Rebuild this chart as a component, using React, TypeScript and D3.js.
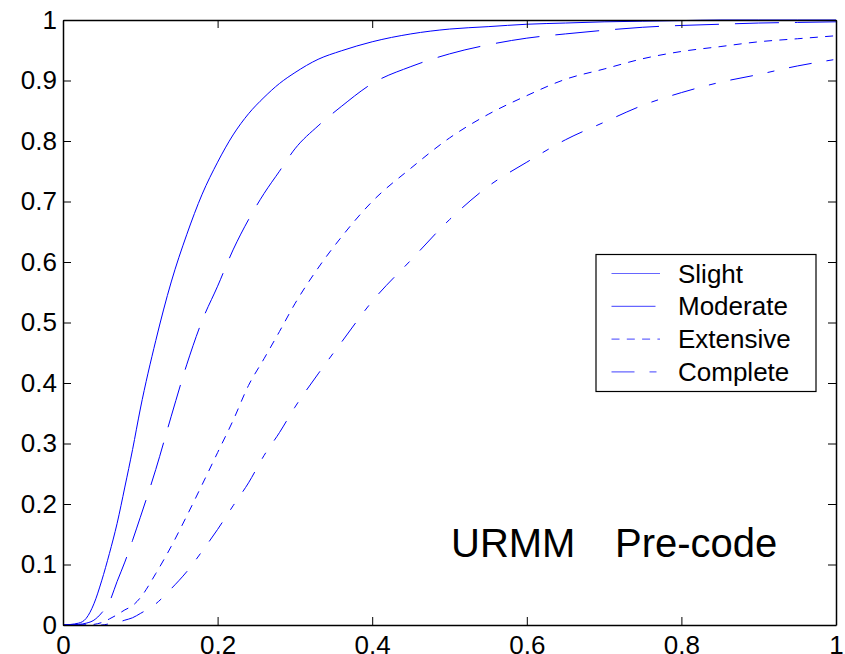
import { useRef, useEffect } from "react";
import * as d3 from "d3";

// PGA values (x) shared by all damage states
const pga = [
  0, 0.02, 0.03, 0.04, 0.05, 0.06, 0.07, 0.08, 0.09, 0.1, 0.12, 0.14, 0.16,
  0.18, 0.2, 0.22, 0.24, 0.26, 0.28, 0.3, 0.33, 0.36, 0.4, 0.45, 0.5, 0.55,
  0.6, 0.65, 0.7, 0.75, 0.8, 0.85, 0.9, 0.95, 1.0,
];

const slight = [
  0, 0.003, 0.011, 0.035, 0.073, 0.118, 0.168, 0.228, 0.29, 0.357, 0.47,
  0.567, 0.645, 0.712, 0.765, 0.81, 0.845, 0.872, 0.895, 0.913, 0.935, 0.949,
  0.964, 0.977, 0.985, 0.989, 0.993, 0.995, 0.997, 0.998, 0.999, 1, 1, 1, 1,
];

const moderate = [
  0, 0.001, 0.003, 0.008, 0.02, 0.038, 0.072, 0.104, 0.14, 0.178, 0.257,
  0.345, 0.43, 0.503, 0.56, 0.62, 0.67, 0.713, 0.75, 0.787, 0.825, 0.857,
  0.895, 0.923, 0.944, 0.959, 0.97, 0.977, 0.983, 0.988, 0.991, 0.993, 0.995,
  0.996, 0.997,
];

const extensive = [
  0, 0, 0, 0.001, 0.004, 0.01, 0.017, 0.025, 0.032, 0.045, 0.085, 0.13, 0.18,
  0.232, 0.285, 0.338, 0.396, 0.44, 0.485, 0.531, 0.59, 0.641, 0.7, 0.755,
  0.805, 0.844, 0.875, 0.902, 0.919, 0.936, 0.948, 0.956, 0.964, 0.969, 0.974,
];

const complete = [
  0, 0, 0, 0, 0, 0.002, 0.004, 0.008, 0.012, 0.019, 0.035, 0.06, 0.088, 0.122,
  0.158, 0.197, 0.235, 0.28, 0.318, 0.36, 0.415, 0.467, 0.535, 0.603, 0.67,
  0.725, 0.765, 0.802, 0.831, 0.859, 0.88, 0.897, 0.91, 0.924, 0.935,
];

const seriesNames = ["Slight", "Moderate", "Extensive", "Complete"];
const seriesValues = [slight, moderate, extensive, complete];
const dashes = ["none", "44,16", "8,7.3", "23,15,7,15"];

const xTicks = [0, 0.2, 0.4, 0.6, 0.8, 1];
const yTicks = [0, 0.1, 0.2, 0.3, 0.4, 0.5, 0.6, 0.7, 0.8, 0.9, 1];

const FONT = "Arial, 'Liberation Sans', sans-serif";

const App = () => {
  const svgRef = useRef<SVGSVGElement>(null);
  const width = 845;
  const height = 654;
  const margin = { top: 20, right: 9, bottom: 29, left: 63 };

  useEffect(() => {
    const innerW = width - margin.left - margin.right;
    const innerH = height - margin.top - margin.bottom;

    const x = d3.scaleLinear().domain([0, 1]).range([0, innerW]);
    const y = d3.scaleLinear().domain([0, 1]).range([innerH, 0]);

    const svgEl = d3.select(svgRef.current);
    svgEl.selectAll("*").remove();

    svgEl
      .append("rect")
      .attr("width", width)
      .attr("height", height)
      .attr("fill", "#fff");

    const svg = svgEl
      .append("g")
      .attr("transform", `translate(${margin.left}, ${margin.top})`);

    // curves
    const line = d3
      .line<number>()
      .x((d, i) => x(pga[i]))
      .y((d) => y(d))
      .curve(d3.curveMonotoneX);

    seriesValues.forEach((vals, k) => {
      svg
        .append("path")
        .attr("d", line(vals))
        .attr("fill", "none")
        .attr("stroke", "#0000ff")
        .attr("stroke-width", 1)
        .attr("stroke-dasharray", dashes[k]);
    });

    // axes, ticks pointing inward on all four sides
    const styleAxis = (g) => {
      g.attr("font-family", FONT).attr("font-size", 26);
      g.select(".domain").attr("stroke", "#000").attr("stroke-width", 1.5);
      g.selectAll(".tick line").attr("stroke", "#000");
      g.selectAll(".tick text").attr("fill", "#000");
    };

    svg
      .append("g")
      .attr("transform", `translate(0, ${innerH})`)
      .call(
        d3
          .axisBottom(x)
          .tickValues(xTicks)
          .tickFormat((d) => String(d))
          .tickSizeInner(-8)
          .tickSizeOuter(0)
          .tickPadding(11)
      )
      .call(styleAxis);

    svg
      .append("g")
      .call(
        d3
          .axisTop(x)
          .tickValues(xTicks)
          .tickFormat(() => "")
          .tickSizeInner(-8)
          .tickSizeOuter(0)
      )
      .call(styleAxis);

    svg
      .append("g")
      .call(
        d3
          .axisLeft(y)
          .tickValues(yTicks)
          .tickFormat((d) => String(d))
          .tickSizeInner(-8)
          .tickSizeOuter(0)
          .tickPadding(6)
      )
      .call(styleAxis);

    svg
      .append("g")
      .attr("transform", `translate(${innerW}, 0)`)
      .call(
        d3
          .axisRight(y)
          .tickValues(yTicks)
          .tickFormat(() => "")
          .tickSizeInner(-8)
          .tickSizeOuter(0)
      )
      .call(styleAxis);

    // legend
    const legend = svgEl.append("g").attr("transform", "translate(596, 254.5)");
    legend
      .append("rect")
      .attr("width", 220)
      .attr("height", 137)
      .attr("fill", "#fff")
      .attr("stroke", "#000")
      .attr("stroke-width", 1.2);

    seriesNames.forEach((name, k) => {
      const ly = 19 + k * 32.8;
      legend
        .append("line")
        .attr("x1", 15.5)
        .attr("x2", 64)
        .attr("y1", ly)
        .attr("y2", ly)
        .attr("stroke", "#0000ff")
        .attr("stroke-opacity", 0.6)
        .attr("stroke-width", 1.2)
        .attr("stroke-dasharray", dashes[k]);
      legend
        .append("text")
        .attr("x", 82)
        .attr("y", ly)
        .attr("dy", "0.35em")
        .attr("font-family", FONT)
        .attr("font-size", 26)
        .attr("fill", "#000")
        .text(name);
    });

    // annotation
    const note = svgEl
      .append("text")
      .attr("x", 451)
      .attr("y", 557)
      .attr("font-family", FONT)
      .attr("font-size", 40)
      .attr("fill", "#000");
    note.append("tspan").text("URMM");
    note.append("tspan").attr("x", 615).text("Pre-code");
  }, []);

  return (
    <svg
      ref={svgRef}
      width={width}
      height={height}
      style={{ position: "absolute", left: 0, top: 0, display: "block" }}
    ></svg>
  );
};

export default App;
